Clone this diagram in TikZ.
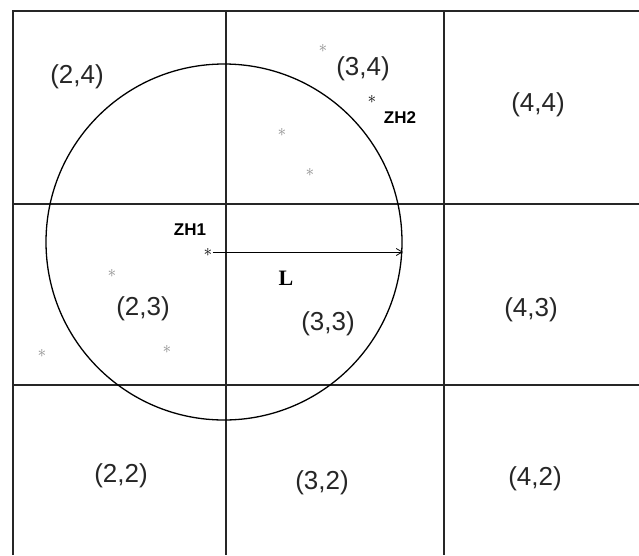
\documentclass[tikz,border=0pt]{standalone}
\usepackage{fontspec}
\setmainfont{Liberation Sans}
\newfontfamily\lenfont{Liberation Serif}
\usetikzlibrary{arrows.meta}

\begin{document}
\begin{tikzpicture}[
x=1pt, y=-1pt,
gridline/.style={line width=1.3pt, black!85},
celltag/.style={font=\fontsize{26}{28}\selectfont, text=black!85},
pointtag/.style={font=\bfseries\fontsize{17}{19}\selectfont, inner sep=1pt},
starmark/.style={inner sep=0pt, font=\fontsize{19}{19}\selectfont},
faint/.style={starmark, text=black!45},
arrow/.style={-{Straight Barb[length=6pt,width=7pt]}, line width=0.8pt}
]
\useasboundingbox (0,0) rectangle (639,555);
% grid of cells
\draw[gridline] (13,555) -- (13,11) -- (639,11);
\draw[gridline] (226,11) -- (226,555);
\draw[gridline] (444,11) -- (444,555);
\draw[gridline] (13,204) -- (639,204);
\draw[gridline] (13,385) -- (639,385);
% range circle
\node[draw, circle, line width=1.3pt, minimum size=356pt, inner sep=0pt] (range) at (224,242) {};
% cell labels
\node[celltag] (c24) at (77,77) {(2,4)};
\node[celltag] (c34) at (363,69) {(3,4)};
\node[celltag] (c44) at (538,105) {(4,4)};
\node[celltag] (c23) at (143,309) {(2,3)};
\node[celltag] (c33) at (328,324) {(3,3)};
\node[celltag] (c43) at (531,310) {(4,3)};
\node[celltag] (c22) at (121,476) {(2,2)};
\node[celltag] (c32) at (322,483) {(3,2)};
\node[celltag] (c42) at (535,479) {(4,2)};
% other points
\node[faint] (p1) at (323,48) {$\ast$};
\node[faint] (p2) at (282,132) {$\ast$};
\node[faint] (p3) at (310,172) {$\ast$};
\node[faint] (p4) at (112,273) {$\ast$};
\node[faint] (p5) at (42,353) {$\ast$};
\node[faint] (p6) at (167,349) {$\ast$};
% cluster heads
\node[starmark] (zh1) at (208,252) {$\ast$};
\node[starmark] (zh2) at (372,99) {$\ast$};
\node[pointtag] (zh1tag) at (190,230) {ZH1};
\node[pointtag] (zh2tag) at (400,118) {ZH2};
\coordinate (rim) at (403,252);
\draw[arrow] (zh1) -- (rim);
\node[font=\lenfont\bfseries\fontsize{22}{24}\selectfont] (len) at (286,278) {L};
\end{tikzpicture}
\end{document}
